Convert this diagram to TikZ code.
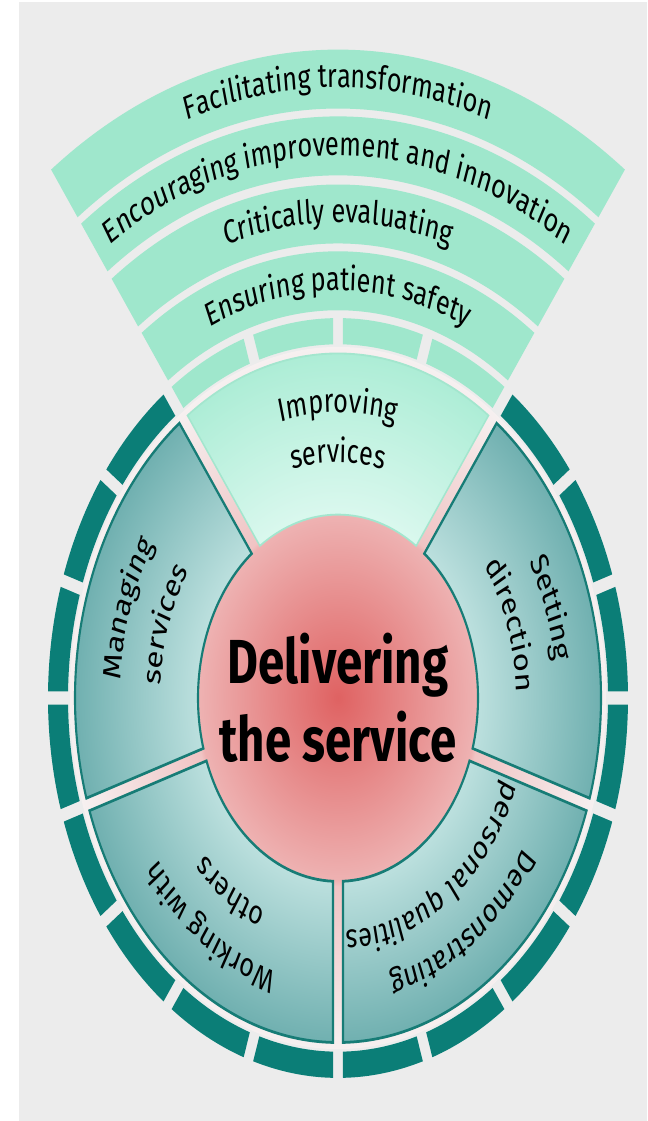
\documentclass[tikz,border=0pt]{standalone}
\usepackage{fontspec}
\setmainfont{Fira Sans}
\usetikzlibrary{decorations.text}
\definecolor{bggray}{HTML}{ECECEC}
\definecolor{piecegreen}{HTML}{0B7E77}
\definecolor{segline}{HTML}{177C76}
\definecolor{tealL}{HTML}{BCE0DE}
\definecolor{tealD}{HTML}{70B0B0}
\definecolor{mintL}{HTML}{DAF8EE}
\definecolor{mintD}{HTML}{ADEDD6}
\definecolor{mintline}{HTML}{A3E6CE}
\definecolor{bandmint}{HTML}{9FE7CC}
\definecolor{redC}{HTML}{DF6262}
\definecolor{redE}{HTML}{EEB2B2}
\definecolor{gapP}{HTML}{F0C4C4}
\definecolor{gapW}{HTML}{F6F0F0}
\pgfdeclareradialshading{coreglow}{\pgfpoint{0bp}{0bp}}{color(0bp)=(redC);color(13bp)=(redE);color(13.4bp)=(gapP);color(25bp)=(gapW);color(50bp)=(gapW)}
\pgfdeclareradialshading{tealring}{\pgfpoint{0bp}{0bp}}{color(0bp)=(tealL);color(13.3bp)=(tealL);color(25bp)=(tealD);color(50bp)=(tealD)}
\pgfdeclareradialshading{mintring}{\pgfpoint{0bp}{0bp}}{color(0bp)=(mintL);color(13.3bp)=(mintL);color(25bp)=(mintD);color(50bp)=(mintD)}
\newcommand\labelfont{\fontsize{7.2}{8}\selectfont}
\newcommand\sector[4]{({#1+asin(5/(#3))}:{#3}) arc[start angle={#1+asin(5/(#3))},end angle={#2-asin(5/(#3))},radius={#3}] -- ({#2-asin(5/(#4))}:{#4}) arc[start angle={#2-asin(5/(#4))},end angle={#1+asin(5/(#4))},radius={#4}] -- cycle}
\newcommand\arclabel[3]{\path[decorate,decoration={text along path,text align=center,text={|\labelfont|#3}}] ({#1+60}:{#2}) arc[start angle={#1+60},end angle={#1-60},radius={#2}];}
\tikzset{
  piece/.style={fill=piecegreen},
  band/.style={fill=bandmint},
  segborder/.style={draw=segline,line width=0.6pt},
  mintborder/.style={draw=mintline,line width=0.4pt}
}
\begin{document}
\begin{tikzpicture}[x=0.01cm,y=0.01cm]
\useasboundingbox (0,0) rectangle (647,1121);
\fill[white] (0,0) rectangle (647,1121);
\fill[bggray] (19,0) rectangle (647,1119);
\begin{scope}[transform canvas={yscale=1.31},shift={(338,322.9)}]
\shade[shading=coreglow] (0,0) circle[radius=268];
\begin{scope}
\clip \sector{54}{126}{140}{263};
\shade[shading=mintring] (0,0) circle[radius=263];
\end{scope}
\draw[mintborder] \sector{54}{126}{140}{263};
\foreach \a in {126,198,270,342}{
  \begin{scope}
  \clip \sector{\a}{\a+72}{140}{263};
  \shade[shading=tealring] (0,0) circle[radius=263];
  \end{scope}
  \draw[segborder] \sector{\a}{\a+72}{140}{263};
}
\foreach \a in {126,144,...,396}
  \fill[piece] \sector{\a}{\a+18}{270}{290};
\foreach \a in {54,72,90,108}
  \fill[band] \sector{\a}{\a+18}{270}{290};
\foreach \r in {296,347,399,450}
  \fill[band] \sector{54}{126}{\r}{\r+45};
\node[font=\bfseries\fontsize{13.5}{17}\selectfont,align=center] (core) at (0,0) {Delivering\\the service};
\arclabel{90}{218}{Improving}
\arclabel{90}{180}{services}
\arclabel{162}{218}{Managing}
\arclabel{162}{178}{services}
\arclabel{18}{218}{Setting}
\arclabel{18}{178}{direction}
\arclabel{306}{218}{Demonstrating}
\arclabel{306}{178}{personal qualities}
\arclabel{234}{218}{Working with}
\arclabel{234}{178}{others}
\arclabel{90}{311}{Ensuring patient safety}
\arclabel{90}{363}{Critically evaluating}
\arclabel{90}{414}{Encouraging improvement and innovation}
\arclabel{90}{466}{Facilitating transformation}
\end{scope}
\end{tikzpicture}
\end{document}
